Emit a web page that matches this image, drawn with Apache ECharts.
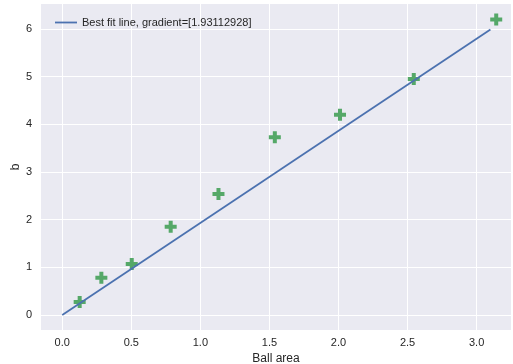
<!DOCTYPE html>
<html>
<head>
<meta charset="utf-8">
<script src="https://cdn.jsdelivr.net/npm/echarts@6/dist/echarts.min.js"></script>
<style>
  html, body { margin: 0; padding: 0; background: #fff; }
  #chart { width: 513px; height: 364px; }
</style>
</head>
<body>
<div id="chart"></div>
<script>
// ball area vs b
const ballArea = [0.126, 0.283, 0.503, 0.785, 1.131, 1.539, 2.011, 2.545, 3.142];
const bValues = [0.27, 0.78, 1.07, 1.85, 2.54, 3.73, 4.2, 4.95, 6.2];
const gradient = 1.93112928;
const fitX = [0, 3.1];
const xTicks = [0, 0.5, 1, 1.5, 2, 2.5, 3];
const yTicks = [0, 1, 2, 3, 4, 5, 6];

const font = 'Liberation Sans, Arial, sans-serif';
const plusPath = 'path://M-1,-3H1V-1H3V1H1V3H-1V1H-3V-1H-1Z';

const chart = echarts.init(document.getElementById('chart'));
chart.setOption({
  animation: false,
  backgroundColor: '#fff',
  grid: {
    left: 41, right: 2, top: 4, bottom: 34,
    outerBoundsMode: 'none',
    show: true, backgroundColor: '#EAEAF2', borderWidth: 0
  },
  legend: {
    left: 50, top: 12,
    itemWidth: 22, itemHeight: 10, itemGap: 8,
    data: [{ name: 'Best fit line, gradient=[1.93112928]', icon: 'path://M0,0H22V1.8H0Z' }],
    textStyle: { fontFamily: font, fontSize: 11, color: '#262626' }
  },
  xAxis: {
    type: 'value', min: -0.154, max: 3.249,
    name: 'Ball area', nameLocation: 'middle', nameGap: 23,
    nameMoveOverlap: false,
    nameTextStyle: { fontFamily: font, fontSize: 12, color: '#262626' },
    axisLine: { show: false },
    axisTick: { show: false, customValues: xTicks },
    axisLabel: {
      customValues: xTicks, margin: 7,
      fontFamily: font, fontSize: 11, color: '#262626',
      formatter: v => v.toFixed(1)
    },
    splitLine: { show: true, customValues: xTicks, lineStyle: { color: '#fff', width: 1 } }
  },
  yAxis: {
    type: 'value', min: -0.315, max: 6.524,
    name: 'b', nameLocation: 'middle', nameGap: 19,
    nameMoveOverlap: false,
    nameTextStyle: { fontFamily: font, fontSize: 12, color: '#262626' },
    axisLine: { show: false },
    axisTick: { show: false, customValues: yTicks },
    axisLabel: {
      customValues: yTicks, margin: 9,
      fontFamily: font, fontSize: 11, color: '#262626'
    },
    splitLine: { show: true, customValues: yTicks, lineStyle: { color: '#fff', width: 1 } }
  },
  series: [
    {
      name: 'Best fit line, gradient=[1.93112928]',
      type: 'line',
      data: fitX.map(x => [x, x * gradient]),
      showSymbol: false,
      lineStyle: { color: '#4C72B0', width: 1.8 },
      itemStyle: { color: '#4C72B0' }
    },
    {
      name: 'points',
      type: 'scatter',
      data: ballArea.map((x, i) => [x, bValues[i]]),
      symbol: plusPath,
      symbolSize: 12,
      itemStyle: { color: '#55A868', opacity: 1 }
    }
  ]
});
</script>
</body>
</html>
